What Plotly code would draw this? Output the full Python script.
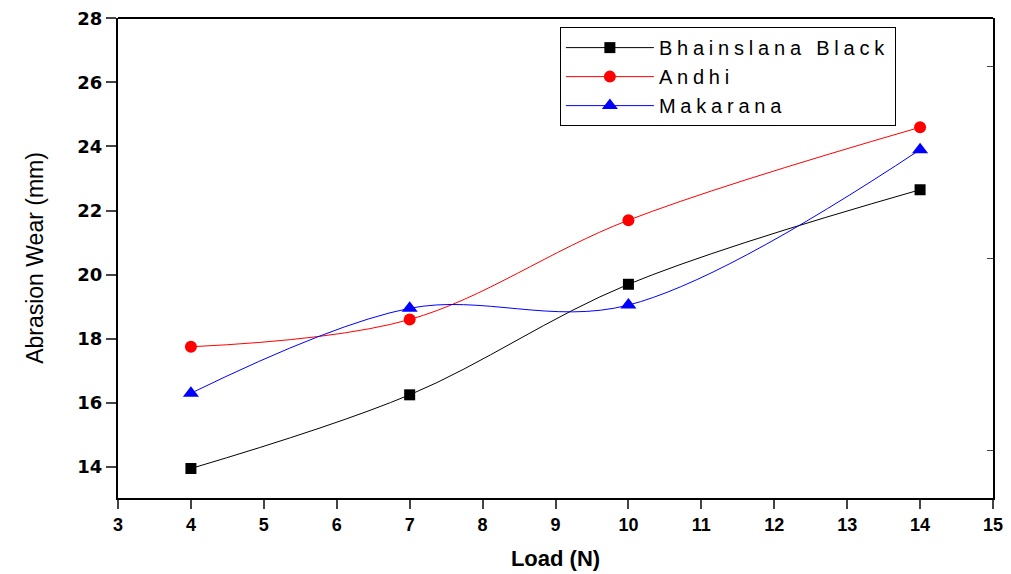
import plotly.graph_objects as go

loads = [4, 7, 10, 14]
bhainslana = [13.95, 16.25, 19.7, 22.65]
andhi = [17.75, 18.6, 21.7, 24.6]
makarana = [16.3, 18.95, 19.05, 23.9]

x_ticks = list(range(3, 16))
y_ticks = [14, 16, 18, 20, 22, 24, 26, 28]
right_ticks = [14.5, 20.5, 26.5]

fig = go.Figure()
series = [
    ("Bhainslana Black", bhainslana, "black", "square", 11),
    ("Andhi", andhi, "red", "circle", 12),
    ("Makarana", makarana, "blue", "triangle-up", 14),
]
for name, vals, col, sym, sz in series:
    fig.add_trace(go.Scatter(
        x=loads, y=vals,
        name='<span style="letter-spacing:4.8px">' + name + '</span>',
        mode="lines+markers",
        line=dict(color=col, width=1, shape="spline", smoothing=1),
        marker=dict(color=col, symbol=sym, size=sz),
    ))

fig.add_trace(go.Scatter(x=[3], y=[14], yaxis="y2", showlegend=False,
                         mode="markers", marker=dict(opacity=0), hoverinfo="skip"))

xtickfont = dict(family="Liberation Sans, Arial", size=18, color="black", weight="bold")
ytickfont = dict(family="DejaVu Sans", size=18, color="black", weight="bold")
fig.update_layout(
    width=1011, height=574,
    margin=dict(l=118, t=18, r=18, b=76),
    plot_bgcolor="white", paper_bgcolor="white",
    font=dict(family="Liberation Sans, Arial", color="black"),
    xaxis=dict(
        range=[3, 15], tickvals=x_ticks, ticks="outside", ticklen=9, tickwidth=2,
        showline=True, linewidth=2, linecolor="black", showgrid=False, zeroline=False,
        tickfont=xtickfont, automargin=False,
        title=dict(text="<b>Load (N)</b>", font=dict(size=22), standoff=17),
    ),
    yaxis=dict(
        range=[13.03, 28.01], tickvals=y_ticks, ticks="outside", ticklen=10, tickwidth=2,
        showline=True, linewidth=2, linecolor="black", showgrid=False, zeroline=False,
        tickfont=ytickfont, automargin=False,
        title=dict(text="Abrasion Wear (mm)", font=dict(size=23), standoff=27),
    ),
    yaxis2=dict(
        range=[13.03, 28.01], overlaying="y", side="right", tickvals=right_ticks,
        ticks="inside", ticklen=6, tickwidth=1, showticklabels=False, automargin=False,
        showline=True, linewidth=2, linecolor="black", showgrid=False, zeroline=False,
    ),
    legend=dict(
        x=0.505, y=0.981, xanchor="left", yanchor="top",
        bordercolor="black", borderwidth=1, bgcolor="white",
        font=dict(size=20, family="Liberation Sans, Arial"),
        tracegroupgap=0, itemwidth=88,
    ),
    shapes=[dict(type="line", xref="paper", yref="paper", x0=0, x1=1, y0=1, y1=1,
                 line=dict(color="black", width=2))],
)

fig.write_html("out.html", post_script="document.body.style.margin='0px';",
               config={"displayModeBar": False})
